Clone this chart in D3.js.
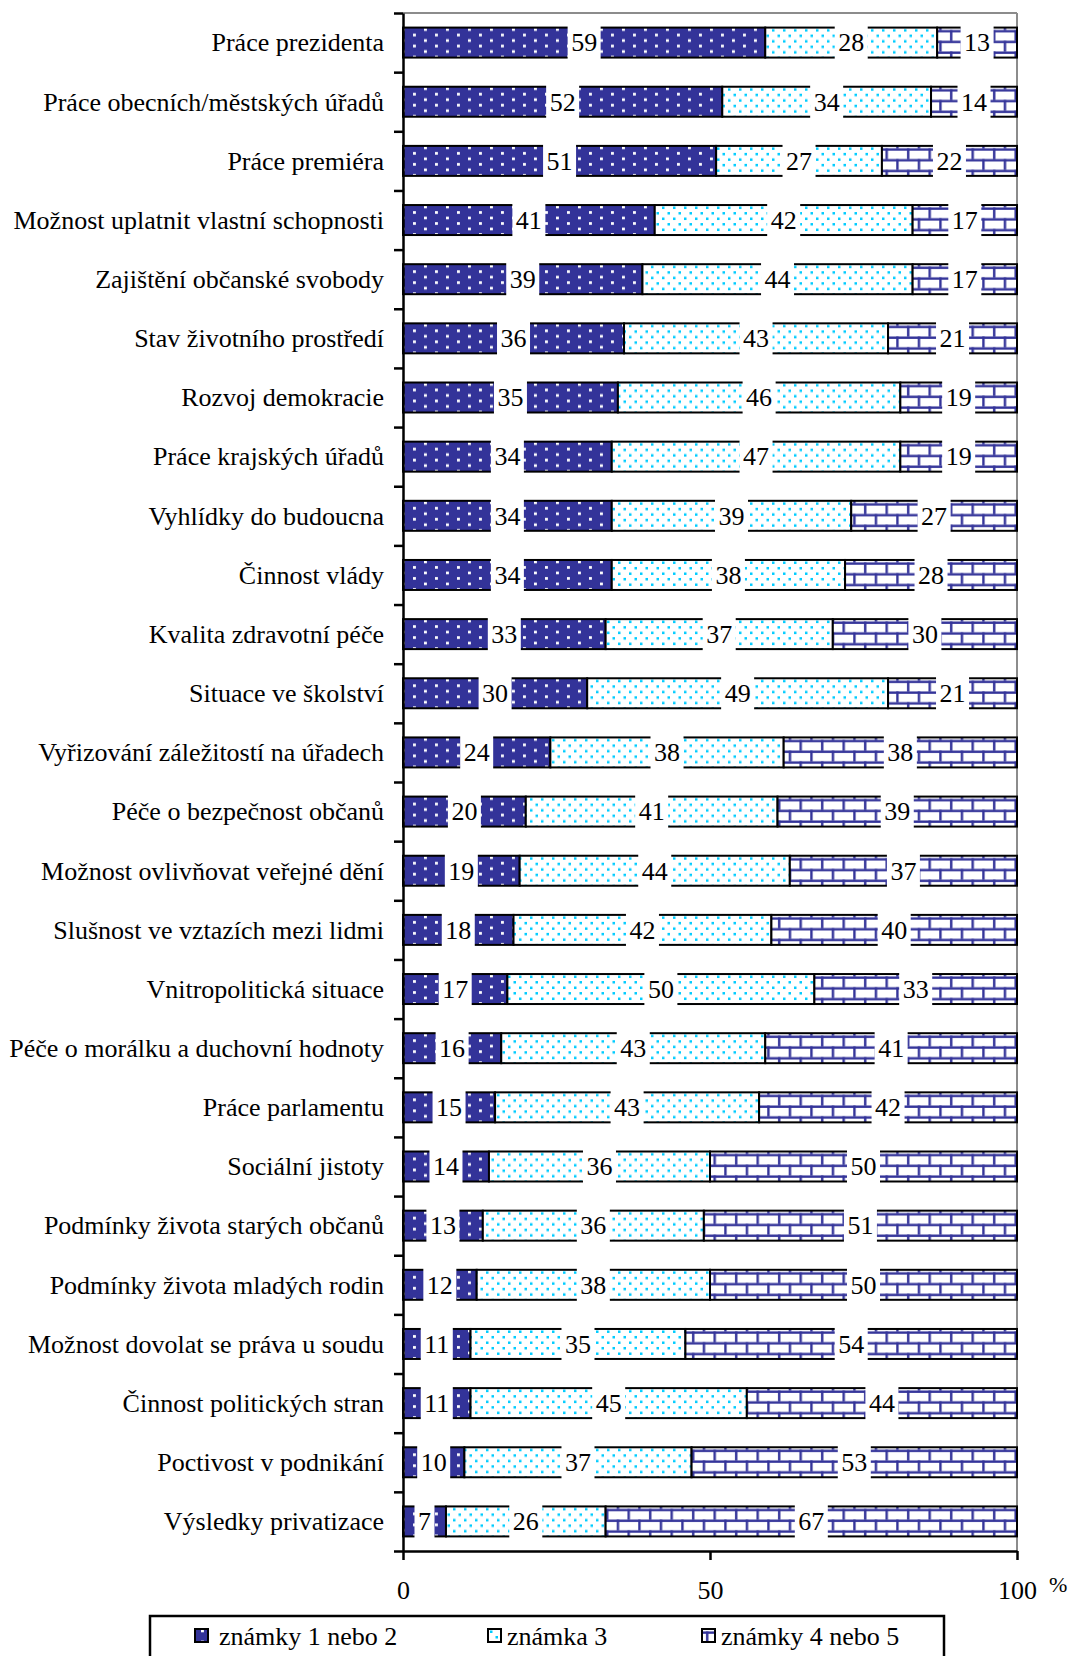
<!DOCTYPE html>
<html><head><meta charset="utf-8">
<script src="https://cdn.jsdelivr.net/npm/d3@7"></script>
<style>
html,body{margin:0;padding:0;background:#fff;}
svg{display:block;font-family:"Liberation Serif","Times New Roman",serif;}
</style></head>
<body>
<svg id="chart" width="1069" height="1656"></svg>
<script>
const categories = [
 "Práce prezidenta","Práce obecních/městských úřadů","Práce premiéra",
 "Možnost uplatnit vlastní schopnosti","Zajištění občanské svobody","Stav životního prostředí",
 "Rozvoj demokracie","Práce krajských úřadů","Vyhlídky do budoucna","Činnost vlády",
 "Kvalita zdravotní péče","Situace ve školství","Vyřizování záležitostí na úřadech",
 "Péče o bezpečnost občanů","Možnost ovlivňovat veřejné dění","Slušnost ve vztazích mezi lidmi",
 "Vnitropolitická situace","Péče o morálku a duchovní hodnoty","Práce parlamentu",
 "Sociální jistoty","Podmínky života starých občanů","Podmínky života mladých rodin",
 "Možnost dovolat se práva u soudu","Činnost politických stran","Poctivost v podnikání",
 "Výsledky privatizace"];
const grade12 = [59,52,51,41,39,36,35,34,34,34,33,30,24,20,19,18,17,16,15,14,13,12,11,11,10,7];
const grade3  = [28,34,27,42,44,43,46,47,39,38,37,49,38,41,44,42,50,43,43,36,36,38,35,45,37,26];
const grade45 = [13,14,22,17,17,21,19,19,27,28,30,21,38,39,37,40,33,41,42,50,51,50,54,44,53,67];
const seriesNames = ["známky 1 nebo 2","známka 3","známky 4 nebo 5"];
const xTicks = [0,50,100];

const NAVY = "#333399", CYAN = "#00ccff";
const svg = d3.select("#chart");
const defs = svg.append("defs");

// dark pattern: navy with white dots
const pDark = defs.append("pattern").attr("id","pDark").attr("patternUnits","userSpaceOnUse")
  .attr("width",22).attr("height",11);
pDark.append("rect").attr("width",22).attr("height",11).attr("fill",NAVY);
pDark.append("rect").attr("x",6).attr("y",0.6).attr("width",2.9).attr("height",2.7).attr("fill","#fff");
pDark.append("rect").attr("x",17).attr("y",6.1).attr("width",2.9).attr("height",2.7).attr("fill","#fff");

// cyan dots on white
const pCyan = defs.append("pattern").attr("id","pCyan").attr("patternUnits","userSpaceOnUse")
  .attr("width",11).attr("height",11);
pCyan.append("rect").attr("width",11).attr("height",11).attr("fill","#fff");
pCyan.append("rect").attr("x",2).attr("y",1.5).attr("width",2.5).attr("height",2.5).attr("fill",CYAN);
pCyan.append("rect").attr("x",7.5).attr("y",7).attr("width",2.5).attr("height",2.5).attr("fill",CYAN);

// brick pattern
const pBrick = defs.append("pattern").attr("id","pBrick").attr("patternUnits","userSpaceOnUse")
  .attr("width",21.5).attr("height",21.5);
pBrick.append("rect").attr("width",21.5).attr("height",21.5).attr("fill","#fff");
pBrick.append("rect").attr("x",0).attr("y",2.4).attr("width",21.5).attr("height",2.4).attr("fill",NAVY);
pBrick.append("rect").attr("x",0).attr("y",13.15).attr("width",21.5).attr("height",2.4).attr("fill",NAVY);
pBrick.append("rect").attr("x",4).attr("y",2.4).attr("width",2.4).attr("height",11).attr("fill",NAVY);
pBrick.append("rect").attr("x",14.75).attr("y",13.15).attr("width",2.4).attr("height",8.4).attr("fill",NAVY);
pBrick.append("rect").attr("x",14.75).attr("y",0).attr("width",2.4).attr("height",2.6).attr("fill",NAVY);

const fills = ["url(#pDark)","url(#pCyan)","url(#pBrick)"];

const x = d3.scaleLinear().domain([0,100]).range([403,1017]);
const y = d3.scaleBand().domain(categories).range([13,1551]).paddingInner(0.493).paddingOuter(0.2465);
const yB = d3.scaleLinear().domain([0,categories.length]).range([13,1551]);
const bw = y.bandwidth();

// plot border (gray top/right)
svg.append("line").attr("x1",x(0)).attr("x2",x(100)).attr("y1",13).attr("y2",13)
  .attr("stroke","#8c8c8c").attr("stroke-width",2);
svg.append("line").attr("x1",x(100)).attr("x2",x(100)).attr("y1",13).attr("y2",1551)
  .attr("stroke","#8c8c8c").attr("stroke-width",2);

const rows = categories.map((c,i)=>({cat:c, vals:[grade12[i],grade3[i],grade45[i]]}));

const rowG = svg.append("g").selectAll("g.row").data(rows).join("g")
  .attr("class","row").attr("transform",d=>`translate(0,${y(d.cat)})`);

rowG.each(function(d){
  const g = d3.select(this);
  let acc = 0;
  const segs = d.vals.map((v,k)=>{const s={k,v,x0:acc,x1:acc+v}; acc+=v; return s;});
  g.selectAll("rect.seg").data(segs).join("rect").attr("class","seg")
    .attr("x",s=>x(s.x0)).attr("width",s=>x(s.x1)-x(s.x0))
    .attr("y",0).attr("height",bw)
    .attr("fill",s=>fills[s.k]).attr("stroke","#000").attr("stroke-width",2);
  segs.forEach(s=>{
    const cx = (x(s.x0)+x(s.x1))/2;
    const bg = g.append("rect");
    const t = g.append("text").attr("x",cx).attr("y",bw/2).attr("dy","0.34em")
      .attr("text-anchor","middle").attr("font-size",26).attr("fill","#000").text(s.v);
    const tw = t.node().getComputedTextLength();
    bg.attr("x",cx-tw/2-3.5).attr("width",tw+7).attr("y",-2).attr("height",bw+4).attr("fill","#fff");
  });
});

// y axis ticks at boundaries
const yAx = svg.append("g").attr("transform",`translate(${x(0)},0)`)
  .call(d3.axisLeft(yB).tickValues(d3.range(categories.length+1)).tickFormat("").tickSize(9).tickSizeOuter(0));
yAx.selectAll("path,line").attr("stroke","#000").attr("stroke-width",2.5);

// category labels
const yLab = svg.append("g").attr("transform",`translate(${x(0)},0)`)
  .call(d3.axisLeft(y).tickSize(0).tickPadding(19));
yLab.select(".domain").remove();
yLab.selectAll("text").attr("font-size",26).attr("font-family","Liberation Serif, Times New Roman, serif")
  .attr("fill","#000").attr("dy","0.34em");

// x axis
const xAx = svg.append("g").attr("transform","translate(0,1551)")
  .call(d3.axisBottom(x).tickValues(xTicks).tickSize(9).tickSizeOuter(0).tickPadding(21));
xAx.selectAll("path,line").attr("stroke","#000").attr("stroke-width",2.5);
xAx.selectAll("text").attr("font-size",26).attr("font-family","Liberation Serif, Times New Roman, serif").attr("fill","#000");

svg.append("text").attr("x",1049).attr("y",1592).attr("font-size",22).attr("fill","#000").text("%");

// legend
svg.append("rect").attr("x",150).attr("y",1616).attr("width",794).attr("height",60)
  .attr("fill","#fff").attr("stroke","#000").attr("stroke-width",2.5);
const legX = [195,488,702];
const lg = svg.append("g").selectAll("g").data(seriesNames).join("g")
  .attr("transform",(d,i)=>`translate(${legX[i]},1629)`);
lg.append("rect").attr("width",13).attr("height",13).attr("fill",(d,i)=>fills[i])
  .attr("stroke","#000").attr("stroke-width",2);
lg.append("text").attr("x",(d,i)=>i===0?24:19).attr("y",16).attr("font-size",26).attr("fill","#000").text(d=>d);
</script>
</body></html>
